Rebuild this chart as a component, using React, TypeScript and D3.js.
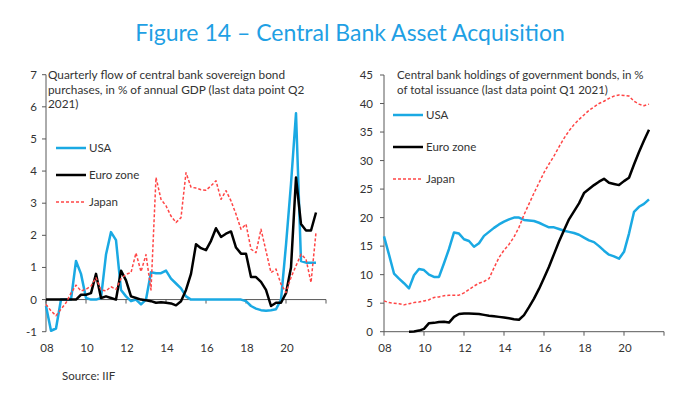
import * as d3 from "d3";

// quarterly series, first point at 2008.0, one step = one quarter
const startYear = 2008;
const endYear = 2022;
const yearTicks = [2008, 2010, 2012, 2014, 2016, 2018, 2020, 2022];
const yearLabels = ["08", "10", "12", "14", "16", "18", "20", ""];

// left: quarterly flow, % of annual GDP (to Q2 2021)
const usaFlow = [
  -0.2, -0.97, -0.9, 0.0, 0.0, 0.0, 1.2, 0.8, 0.05, 0.0,
  0.0, 0.05, 1.4, 2.1, 1.85, 0.3, 0.1, -0.05, 0.0, -0.15,
  0.0, 0.85, 0.82, 0.82, 0.9, 0.65, 0.5, 0.35, 0.1, 0.0,
  0.0, 0.0, 0.0, 0.0, 0.0, 0.0, 0.0, 0.0, 0.0, 0.0,
  -0.05, -0.2, -0.28, -0.33, -0.35, -0.33, -0.3, 0.0, 1.7, 3.6,
  5.8, 1.2, 1.15, 1.15, 1.15,
];
const euroFlow = [
  0, 0, 0, 0, 0, 0, 0, 0.15, 0.15, 0.2,
  0.8, 0.05, 0.1, 0.05, 0.0, 0.9, 0.6, 0.1, 0.05, 0.0,
  -0.02, -0.05, -0.1, -0.08, -0.1, -0.12, -0.18, -0.05, 0.3, 0.8,
  1.72, 1.6, 1.54, 1.83, 2.22, 1.95, 2.05, 2.12, 1.62, 1.43,
  1.43, 0.7, 0.7, 0.55, 0.3, -0.2, -0.1, -0.1, 0.2, 1.0,
  3.8, 2.35, 2.15, 2.15, 2.71,
];
const japanFlow = [
  -0.15, -0.35, -0.5, -0.3, -0.1, 0.2, 0.45, 0.27, 0.32, 0.42,
  0.68, 0.3, 0.27, 0.4, 0.32, 0.65, 0.79, 0.84, 1.45, 0.87,
  1.4, 0.3, 3.8, 3.12, 2.92, 2.6, 2.4, 2.55, 3.95, 3.5,
  3.47, 3.42, 3.4, 3.54, 3.7, 3.12, 3.39, 3.07, 2.66, 2.19,
  2.35, 1.57, 1.46, 2.19, 1.51, 0.84, 0.95, 0.48, 0.22, 0.69,
  1.05, 1.41, 1.26, 0.53, 2.09,
];

// right: holdings, % of total issuance (to Q1 2021)
const usaHold = [
  16.7, 13.5, 10.2, 9.3, 8.5, 7.6, 9.9, 11.0, 10.8, 10.0,
  9.6, 9.6, 12.0, 14.5, 17.4, 17.2, 16.2, 15.9, 14.9, 15.5,
  16.8, 17.5, 18.2, 18.8, 19.3, 19.7, 20.0, 20.0, 19.6, 19.5,
  19.4, 19.1, 18.7, 18.3, 18.3, 18.0, 17.7, 17.5, 17.3, 17.0,
  16.5, 16.0, 15.7, 15.0, 14.2, 13.5, 13.2, 12.8, 14.0, 17.2,
  21.0, 21.9, 22.4, 23.2,
];
const euroHold = [
  null, null, null, null, null, 0.0, 0.05, 0.2, 0.5, 1.5,
  1.55, 1.7, 1.75, 1.6, 2.6, 3.1, 3.2, 3.2, 3.15, 3.1,
  2.95, 2.8, 2.7, 2.6, 2.5, 2.35, 2.2, 2.1, 2.9, 4.3,
  5.8, 7.5, 9.4, 11.4, 13.6, 15.8, 17.8, 19.7, 21.1, 22.5,
  24.3, 25.0, 25.7, 26.3, 26.8, 26.1, 25.9, 25.7, 26.4, 27.0,
  29.3, 31.5, 33.5, 35.4,
];
const japanHold = [
  5.4, 5.1, 5.0, 4.9, 4.7, 4.9, 5.1, 5.2, 5.4, 5.6,
  6.0, 6.1, 6.3, 6.4, 6.4, 6.4, 6.8, 7.4, 8.0, 8.5,
  8.8, 9.3, 11.2, 13.0, 14.3, 15.3, 16.6, 18.3, 20.5, 22.4,
  24.3, 26.1, 27.9, 29.4, 30.8, 32.4, 33.9, 35.2, 36.3, 37.2,
  38.0, 38.8, 39.4, 40.0, 40.4, 40.9, 41.3, 41.5, 41.4, 41.3,
  40.4, 39.9, 39.6, 39.9,
];

const flowTicks = [-1, 0, 1, 2, 3, 4, 5, 6, 7];
const holdTicks = [0, 5, 10, 15, 20, 25, 30, 35, 40, 45];
const seriesNames = ["USA", "Euro zone", "Japan"];

const colors = { usa: "#1aa9e3", euro: "#000000", japan: "#ff4646" };
const font = "Lato, 'Open Sans', sans-serif";
const textColor = "#333333";
const axisColor = "#595959";

type Series = { name: string; values: (number | null)[]; color: string; width: number; dash?: string };

const Panel = (props: {
  x0: number; x1: number; yTop: number; yBottom: number;
  yDomain: [number, number]; yTicks: number[];
  series: Series[]; titleLines: string[]; titleX: number; titleSize: number;
  legendX: number; legendY: number[]; labelRight: number;
}) => {
  const x = d3.scaleLinear().domain([startYear, endYear]).range([props.x0, props.x1]);
  const y = d3.scaleLinear().domain(props.yDomain).range([props.yBottom, props.yTop]);
  const axisY = y(Math.max(0, props.yDomain[0]));

  const line = d3
    .line<number | null>()
    .defined((d) => d !== null)
    .x((_, i) => x(startYear + i / 4))
    .y((d) => y(d as number));

  return (
    <g>
      {props.titleLines.map((t, i) => (
        <text key={t} x={props.titleX} y={79 + i * 14.5} fontSize={props.titleSize} fill={textColor} fontFamily={font}>
          {t}
        </text>
      ))}

      {/* y axis */}
      <line x1={props.x0} x2={props.x0} y1={y(props.yDomain[0])} y2={y(props.yDomain[1])} stroke={axisColor} strokeWidth={1} />
      {props.yTicks.map((t) => (
        <g key={t}>
          <line x1={props.x0 - 4} x2={props.x0} y1={y(t)} y2={y(t)} stroke={axisColor} />
          <text x={props.labelRight} y={y(t) + 4} textAnchor="end" fontSize={11.5} fill={textColor} fontFamily={font}>
            {t}
          </text>
        </g>
      ))}

      {/* x axis */}
      <line x1={x(startYear)} x2={x(endYear)} y1={axisY} y2={axisY} stroke={axisColor} strokeWidth={1} />
      {yearTicks.map((yr, i) => (
        <g key={yr}>
          <line x1={x(yr)} x2={x(yr)} y1={axisY} y2={axisY + 4} stroke={axisColor} />
          <text x={x(yr) + 1} y={352} textAnchor="middle" fontSize={11.5} fill={textColor} fontFamily={font}>
            {yearLabels[i]}
          </text>
        </g>
      ))}

      {props.series.map((s) => (
        <path key={s.name} d={line(s.values) || ""} fill="none" stroke={s.color} strokeWidth={s.width}
          strokeDasharray={s.dash} strokeLinejoin="round" />
      ))}

      {props.series.map((s, i) => (
        <g key={s.name + "-lg"}>
          <line x1={props.legendX} x2={props.legendX + 30} y1={props.legendY[i]} y2={props.legendY[i]}
            stroke={s.color} strokeWidth={s.width} strokeDasharray={s.dash} />
          <text x={props.legendX + 33} y={props.legendY[i] + 4} fontSize={11.5} fill={textColor} fontFamily={font}>
            {s.name}
          </text>
        </g>
      ))}
    </g>
  );
};

const makeSeries = (vals: (number | null)[][]): Series[] => [
  { name: seriesNames[0], values: vals[0], color: colors.usa, width: 2.5 },
  { name: seriesNames[1], values: vals[1], color: colors.euro, width: 2.5 },
  { name: seriesNames[2], values: vals[2], color: colors.japan, width: 1.5, dash: "3,2" },
];

export default function App() {
  return (
    <svg width={700} height={394} style={{ position: "absolute", left: 0, top: 0, background: "#fff" }}>
      <text x={350} y={41} textAnchor="middle" fontSize={23} fill="#1fa0e4" fontFamily={font}>
        Figure 14 – Central Bank Asset Acquisition
      </text>
      <Panel
        x0={46} x1={326} yTop={74.7} yBottom={331.7}
        yDomain={[-1, 7]} yTicks={flowTicks}
        series={makeSeries([usaFlow, euroFlow, japanFlow])}
        titleLines={[
          "Quarterly flow of central bank sovereign bond",
          "purchases, in % of annual GDP (last data point Q2",
          "2021)",
        ]}
        titleX={48} titleSize={11.8}
        legendX={56} legendY={[148, 175, 202]} labelRight={37}
      />
      <Panel
        x0={384} x1={664} yTop={75} yBottom={331.7}
        yDomain={[0, 45]} yTicks={holdTicks}
        series={makeSeries([usaHold, euroHold, japanHold])}
        titleLines={[
          "Central bank holdings of government bonds, in %",
          "of total issuance (last data point Q1 2021)",
        ]}
        titleX={397} titleSize={11.5}
        legendX={393} legendY={[115, 147, 179]} labelRight={373}
      />
      <text x={62} y={380} fontSize={11.5} fill={textColor} fontFamily={font}>
        Source: IIF
      </text>
    </svg>
  );
}
